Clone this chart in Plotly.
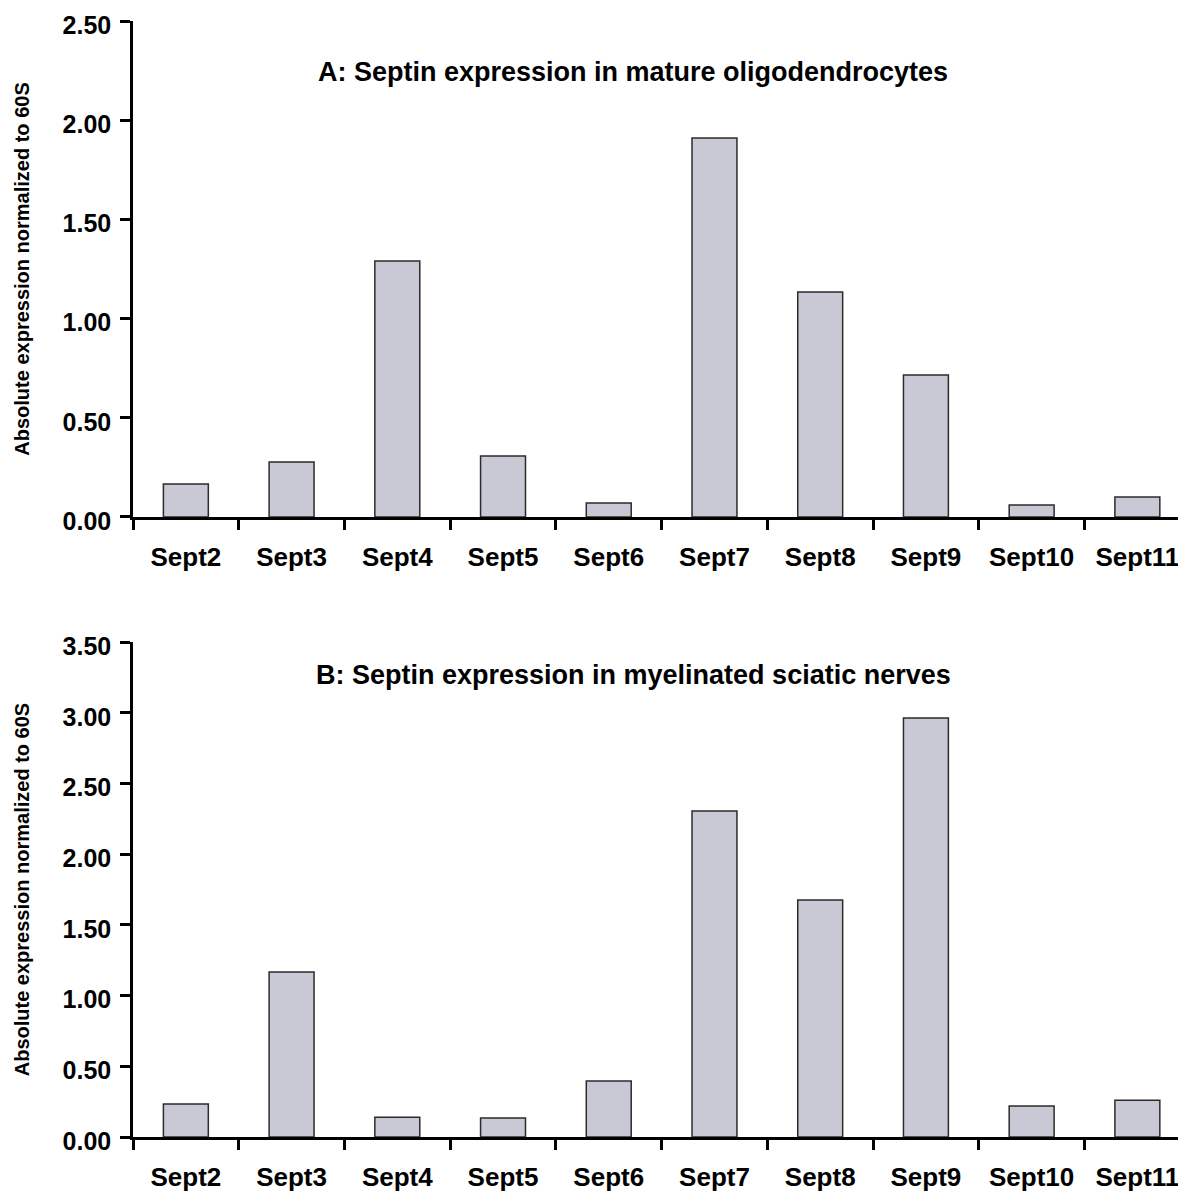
import plotly.graph_objects as go
from plotly.subplots import make_subplots

categories = ["Sept2", "Sept3", "Sept4", "Sept5", "Sept6", "Sept7", "Sept8", "Sept9", "Sept10", "Sept11"]
oligodendrocytes = [0.166, 0.277, 1.29, 0.307, 0.07, 1.91, 1.134, 0.716, 0.06, 0.10]
sciatic_nerves = [0.233, 1.167, 0.14, 0.134, 0.396, 2.305, 1.676, 2.963, 0.22, 0.26]
title_a = "A: Septin expression in mature oligodendrocytes"
title_b = "B: Septin expression in myelinated sciatic nerves"
y_title = "Absolute expression normalized to 60S"

FONT = "Liberation Sans, Arial, sans-serif"
BAR_FILL = "#C9C9D5"
BAR_LINE = "#2b2b2b"

fig = make_subplots(rows=2, cols=1, vertical_spacing=0.112)

for row, vals in ((1, oligodendrocytes), (2, sciatic_nerves)):
    fig.add_trace(go.Bar(x=categories, y=vals, width=0.425,
                         marker=dict(color=BAR_FILL, line=dict(color=BAR_LINE, width=1.5)),
                         showlegend=False), row=row, col=1)

# page body has an 8px default margin; compensate so the figure fills the window
fig.update_layout(
    width=1178, height=1183,
    margin=dict(l=125, r=0, t=13, b=54),
    plot_bgcolor="white", paper_bgcolor="white",
    font=dict(family=FONT, color="black"),
)

xcommon = dict(range=[-0.5, 9.46], showline=True, linewidth=2.5, linecolor="black",
               ticks="outside", tickson="boundaries", ticklen=10, tickwidth=2.5, tickcolor="black",
               tickfont=dict(family=FONT, size=26, color="black", weight="bold"),
               ticklabelstandoff=15, ticklabeloverflow="allow",
               showgrid=False, zeroline=False, automargin=False)
fig.update_xaxes(**xcommon)
fig.update_xaxes(domain=[0, 1])

ycommon = dict(showline=True, linewidth=2.5, linecolor="black", ticks="outside", ticklen=10,
               tickwidth=2.5, tickcolor="black", tickformat=".2f", showgrid=False, zeroline=False,
               tickfont=dict(family=FONT, size=25, color="black", weight="bold"),
               ticklabelstandoff=4, ticklabelshift=4, ticklabeloverflow="allow", automargin=False,
               title=dict(text=y_title, font=dict(family=FONT, size=20, color="black", weight="bold"),
                          standoff=28))
fig.update_yaxes(**ycommon)
fig.update_yaxes(range=[0, 2.5], dtick=0.5, domain=[0.5556, 1.0], row=1, col=1)
fig.update_yaxes(range=[0, 3.5], dtick=0.5, domain=[0.0, 0.4435], row=2, col=1)

fig.add_annotation(text=title_a, xref="x domain", yref="y domain", x=0.475, y=0.897,
                   showarrow=False, font=dict(family=FONT, size=27, color="black", weight="bold"),
                   xanchor="center", yanchor="middle")
fig.add_annotation(text=title_b, xref="x2 domain", yref="y2 domain", x=0.475, y=0.934,
                   showarrow=False, font=dict(family=FONT, size=27, color="black", weight="bold"),
                   xanchor="center", yanchor="middle")

fig.write_html("out.html")
